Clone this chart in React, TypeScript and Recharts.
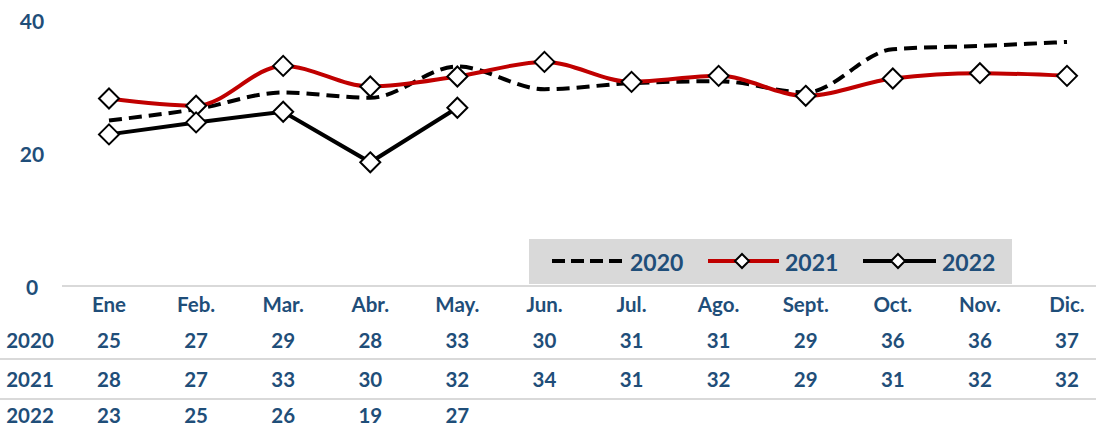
import React from "react";
import { LineChart, Line, XAxis, YAxis, Legend } from "recharts";

const MONTHS = ["Ene", "Feb.", "Mar.", "Abr.", "May.", "Jun.", "Jul.", "Ago.", "Sept.", "Oct.", "Nov.", "Dic."];
const V2020 = [24.9, 26.6, 29.1, 28.3, 33.0, 29.6, 30.5, 30.8, 29.1, 35.6, 36.1, 36.7];
const V2021 = [28.2, 27.1, 33.1, 30.0, 31.5, 33.7, 30.7, 31.6, 28.6, 31.2, 32.0, 31.6];
const V2022 = [22.8, 24.6, 26.2, 18.6, 26.8];
const Y_TICKS = [0, 20, 40];
const YEARS = ["2020", "2021", "2022"];

const TEXT = "#1F4E79";
const RED = "#C00000";
const FONT = "Lato, 'Open Sans', sans-serif";

const data = MONTHS.map((m, i) => ({
  month: m,
  y2020: V2020[i],
  y2021: V2021[i],
  y2022: i < V2022.length ? V2022[i] : null,
}));

const TABLE_ROWS = [V2020, V2021, V2022];
// vertical offset of each table row below the axis
const ROW_OFFSETS = [54, 93, 129];

const Diamond = ({ cx, cy, r = 10 }: { cx: number; cy: number; r?: number }) => (
  <polygon
    points={`${cx},${cy - r} ${cx + r},${cy} ${cx},${cy + r} ${cx - r},${cy}`}
    fill="#fff"
    stroke="#000"
    strokeWidth={2}
  />
);

const renderDot = (props: any) => {
  const { cx, cy, index } = props;
  if (cx == null || cy == null || props.value == null) return <g key={`e-${index}`} />;
  return (
    <g key={`d-${index}`}>
      <Diamond cx={cx} cy={cy} />
    </g>
  );
};

// month labels + data table rows under the plot
const MonthTick = (props: any) => {
  const { x, y, payload } = props;
  const i = payload.index;
  return (
    <g fontFamily={FONT} fontWeight={700} fontSize={20.5} fill={TEXT}>
      {i === 0 && (
        <g>
          <line x1={62} x2={1096} y1={286} y2={286} stroke="#D9D9D9" strokeWidth={2} />
          <line x1={0} x2={1096} y1={359} y2={359} stroke="#D9D9D9" strokeWidth={2} />
          <line x1={0} x2={1096} y1={399} y2={399} stroke="#D9D9D9" strokeWidth={2} />
          {YEARS.map((yr, r) => (
            <text key={yr} x={30} y={y + ROW_OFFSETS[r]} textAnchor="middle" dominantBaseline="central">
              {yr}
            </text>
          ))}
        </g>
      )}
      <text x={x} y={y + 18} textAnchor="middle" dominantBaseline="central">
        {payload.value}
      </text>
      {TABLE_ROWS.map((row, r) =>
        row[i] != null ? (
          <text key={r} x={x} y={y + ROW_OFFSETS[r]} textAnchor="middle" dominantBaseline="central">
            {Math.round(row[i])}
          </text>
        ) : null
      )}
    </g>
  );
};

const YTick = (props: any) => {
  const { y, payload } = props;
  return (
    <text x={32} y={y} textAnchor="middle" dominantBaseline="central" fontFamily={FONT} fontWeight={700} fontSize={21} fill={TEXT}>
      {payload.value}
    </text>
  );
};

const LegendBox = () => (
  <div style={{ width: 483, height: 45, background: "#D9D9D9" }}>
    <svg width={483} height={45}>
      <g fontFamily={FONT} fontWeight={700} fontSize={23} fill={TEXT}>
        <line x1={23} x2={94} y1={22} y2={22} stroke="#000" strokeWidth={4} strokeDasharray="13 6" />
        <text x={101} y={23} dominantBaseline="central">2020</text>
        <line x1={179} x2={250} y1={22} y2={22} stroke={RED} strokeWidth={4} />
        <Diamond cx={213} cy={22} r={7} />
        <text x={256} y={23} dominantBaseline="central">2021</text>
        <line x1={334} x2={407} y1={22} y2={22} stroke="#000" strokeWidth={4} />
        <Diamond cx={369} cy={22} r={7} />
        <text x={413} y={23} dominantBaseline="central">2022</text>
      </g>
    </svg>
  </div>
);

export default function App() {
  return (
    <div style={{ position: "absolute", left: 0, top: 0, width: 1096, height: 428, background: "#fff" }}>
      <LineChart width={1096} height={428} data={data} margin={{ top: 20, right: 29, bottom: 0, left: 0 }}>
        <XAxis
          dataKey="month"
          axisLine={false}
          tickLine={false}
          tickSize={0}
          tickMargin={0}
          height={142}
          interval={0}
          tick={<MonthTick />}
        />
        <YAxis
          domain={[0, 40]}
          ticks={Y_TICKS}
          width={109}
          axisLine={false}
          tickLine={false}
          tick={<YTick />}
        />
        <Legend
          layout="horizontal"
          verticalAlign="middle"
          content={<LegendBox />}
          wrapperStyle={{ position: "absolute", left: 529, top: 239, width: 483, height: 45 }}
        />
        <Line
          type="monotone"
          dataKey="y2020"
          name="2020"
          stroke="#000"
          strokeWidth={4}
          strokeDasharray="13 7"
          dot={false}
          activeDot={false}
          isAnimationActive={false}
        />
        <Line
          type="monotone"
          dataKey="y2021"
          name="2021"
          stroke={RED}
          strokeWidth={4}
          dot={renderDot}
          activeDot={false}
          isAnimationActive={false}
        />
        <Line
          type="linear"
          dataKey="y2022"
          name="2022"
          stroke="#000"
          strokeWidth={4}
          dot={renderDot}
          activeDot={false}
          isAnimationActive={false}
        />
      </LineChart>
    </div>
  );
}
